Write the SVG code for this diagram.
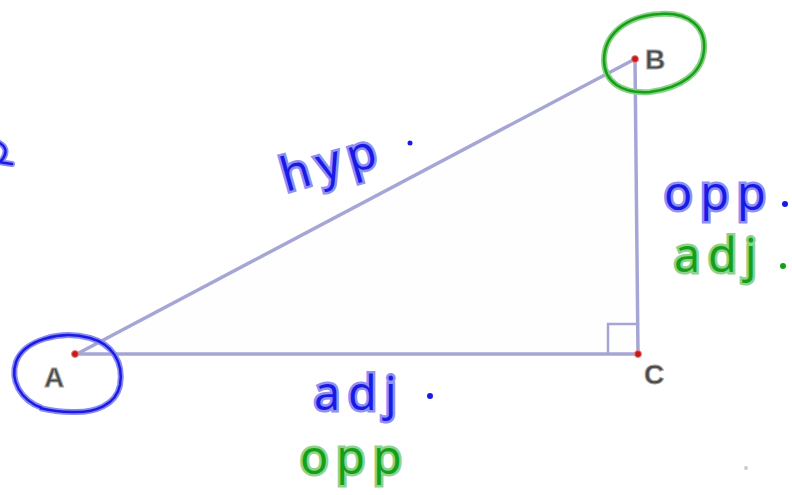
<svg xmlns="http://www.w3.org/2000/svg" width="792" height="495" viewBox="0 0 792 495">
<style>
.edge{stroke:#a6a6d6;stroke-width:3.5;fill:none;stroke-linecap:round}
.pt{fill:#c41a1a;stroke:#e88;stroke-width:1}
.lbl{font-family:"Liberation Sans",Arial,sans-serif;font-weight:bold;font-size:28px;fill:#4a4a4a;stroke:#aaa;stroke-width:1}
.hb{font-family:"Open Sans","Liberation Sans",sans-serif;font-size:47px;fill:#1a1ae6;stroke:#9090f2;stroke-width:5;paint-order:stroke;letter-spacing:8px}
.hg{font-family:"Open Sans","Liberation Sans",sans-serif;font-size:47px;fill:#14a014;stroke:#8ed28e;stroke-width:5;paint-order:stroke;letter-spacing:8px}
.ob{fill:none;stroke:#8c8cf0;stroke-width:6}
.obi{fill:none;stroke:#1a1ae6;stroke-width:2.5}
.og{fill:none;stroke:#8ad08a;stroke-width:6}
.ogi{fill:none;stroke:#14a014;stroke-width:2.5}
</style>
<rect width="792" height="495" fill="#ffffff"/>
<g id="triangle">
<polygon points="75,355 635,59 638,354" fill="#fefeff"/>
</g>
<g id="connectors">
<line class="edge" x1="75" y1="355" x2="635" y2="59"/>
<line class="edge" x1="635" y1="59" x2="638" y2="354"/>
<line class="edge" x1="75" y1="354" x2="638" y2="354"/>
<polyline class="edge" points="608,354 608,324 638,324" style="stroke-width:2.5"/>
</g>
<g id="A">
<circle class="pt" cx="75" cy="354" r="3.5"/>
<text class="lbl" x="44" y="387">A</text>
</g>
<g id="B">
<circle class="pt" cx="635" cy="59" r="3.5"/>
<text class="lbl" x="645" y="69">B</text>
</g>
<g id="C">
<circle class="pt" cx="638" cy="354" r="3.5"/>
<text class="lbl" x="644" y="384">C</text>
</g>
<g id="circleA">
<path class="ob" d="M42,408 C20,400 10,380 16,362 C24,340 60,330 90,338 C112,344 124,362 120,385 C116,405 95,413 72,412 C60,412 48,410 40,408"/>
<path class="obi" d="M42,408 C20,400 10,380 16,362 C24,340 60,330 90,338 C112,344 124,362 120,385 C116,405 95,413 72,412 C60,412 48,410 40,408"/>
</g>
<g id="circleB">
<path class="og" d="M660,14 C690,12 706,28 704,50 C702,74 680,88 650,92 C622,94 604,82 604,60 C604,36 624,16 660,14"/>
<path class="ogi" d="M660,14 C690,12 706,28 704,50 C702,74 680,88 650,92 C622,94 604,82 604,60 C604,36 624,16 660,14"/>
</g>
<g id="notes">
<text class="hb" transform="translate(286,192) rotate(-16)">hyp</text>
<circle cx="410" cy="143" r="2.5" fill="#1a1ae6"/>
<text class="hb" x="664" y="210">opp</text>
<circle cx="785" cy="204" r="3" fill="#1a1ae6"/>
<text class="hg" x="674" y="272">adj</text>
<circle cx="783" cy="266" r="3" fill="#14a014"/>
<text class="hb" x="314" y="410">adj</text>
<circle cx="430" cy="396" r="3" fill="#1a1ae6"/>
<text class="hg" x="300" y="474">opp</text>
<path d="M-2,142 C6,146 8,152 2,160 L-2,162 M-2,162 L12,164" fill="none" stroke="#8c8cf0" stroke-width="6" stroke-linecap="round"/>
<path d="M-2,142 C6,146 8,152 2,160 L-2,162 M-2,162 L12,164" fill="none" stroke="#1a1ae6" stroke-width="2.5" stroke-linecap="round"/>
<circle cx="746" cy="468" r="2" fill="#ccc"/>
</g>
</svg>
